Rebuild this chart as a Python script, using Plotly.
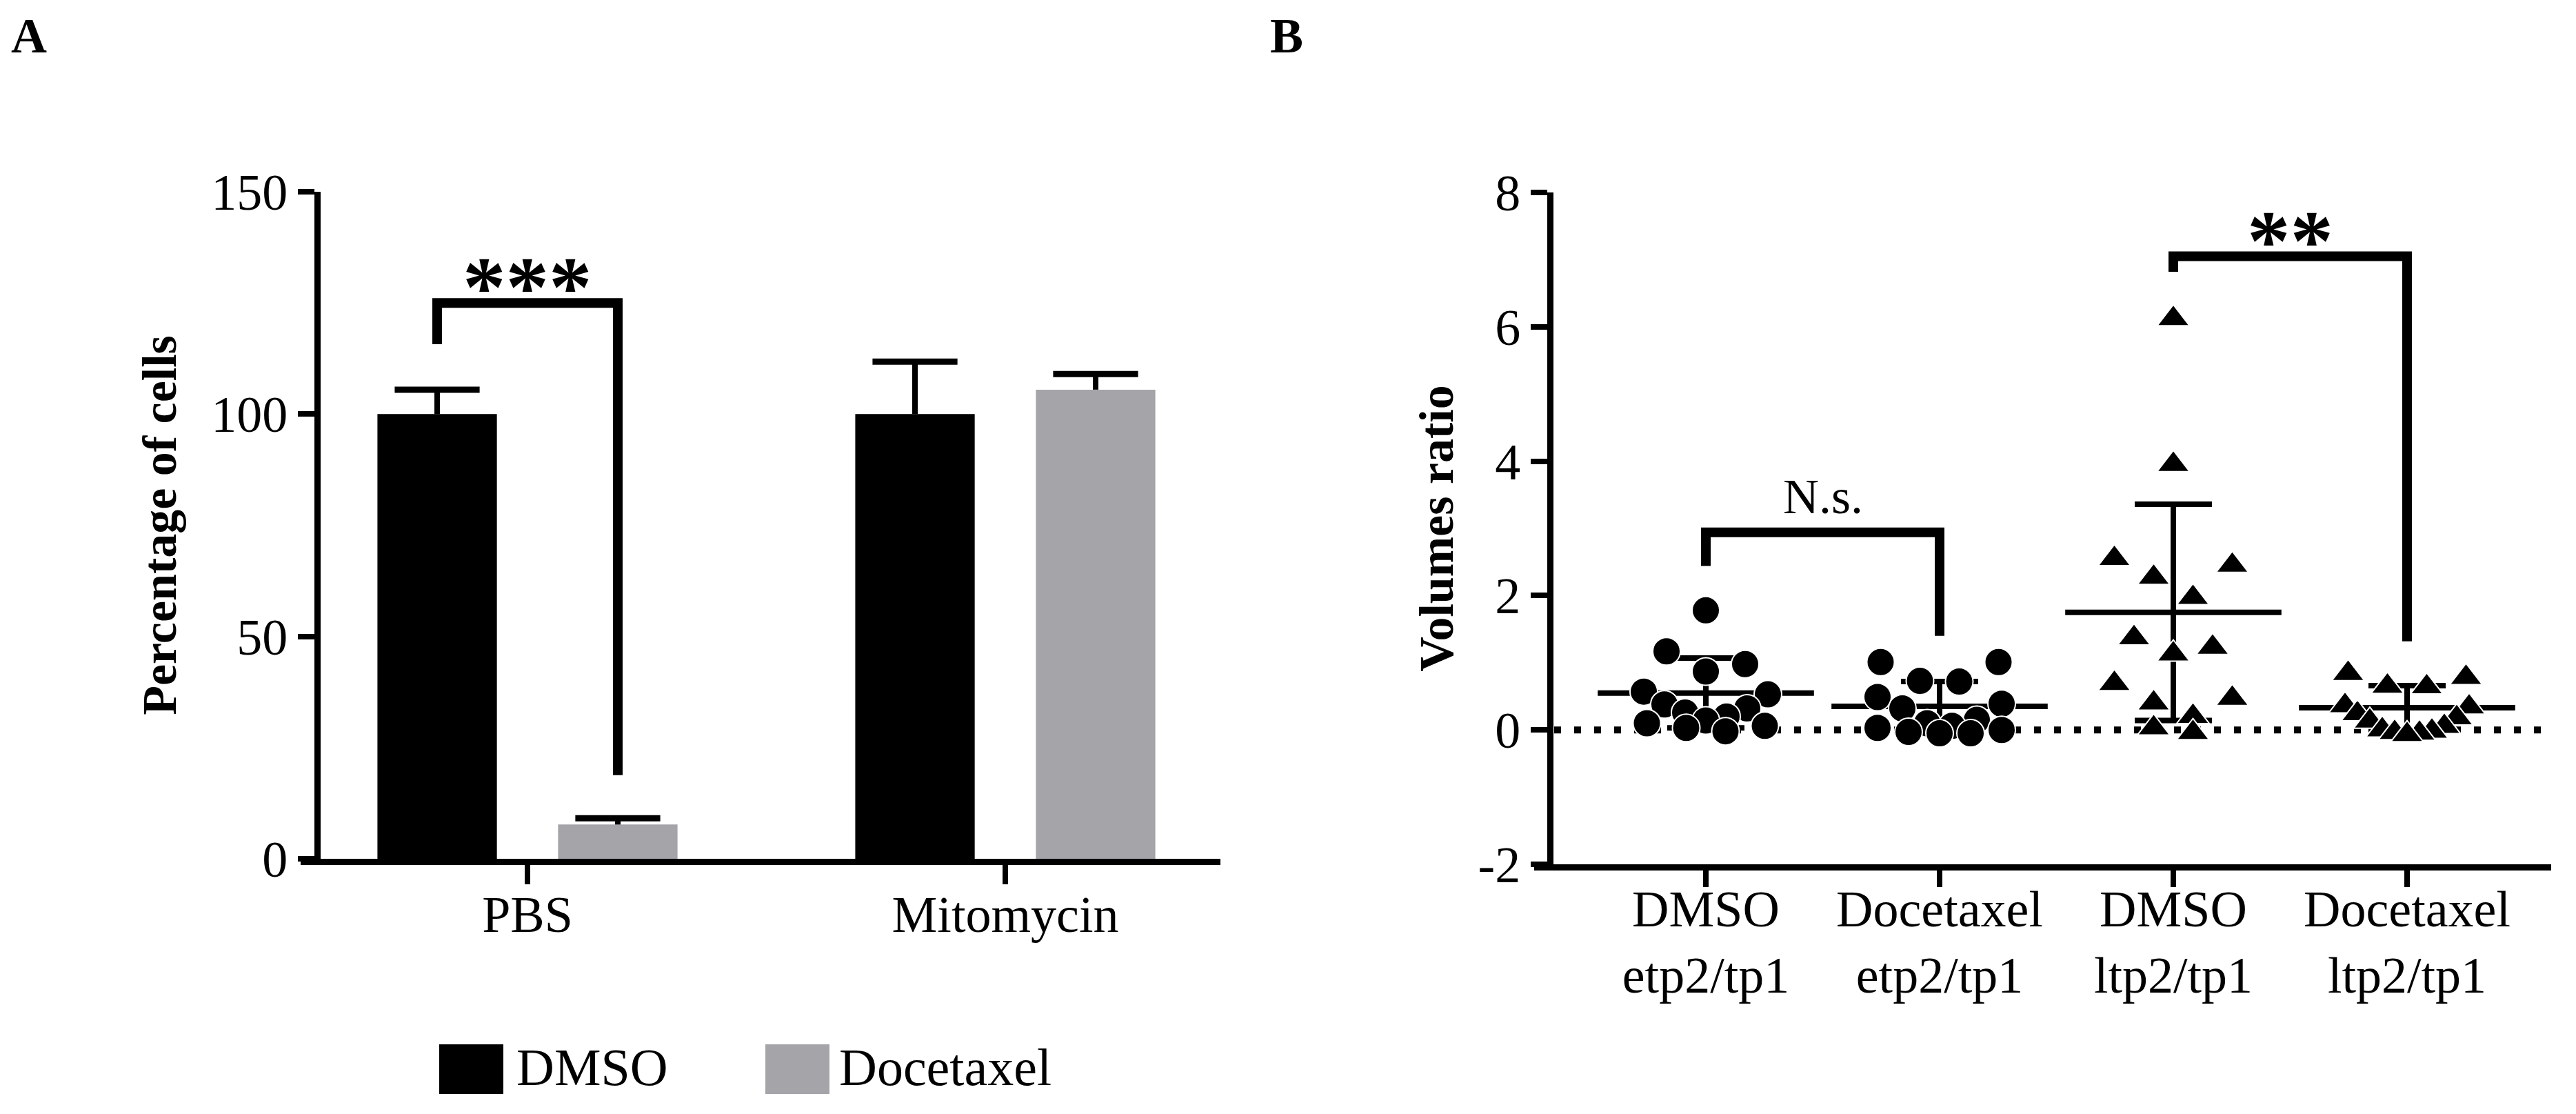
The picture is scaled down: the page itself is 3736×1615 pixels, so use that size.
import numpy as np
import plotly.graph_objects as go

W, H = 3736, 1615
FONT = "Liberation Serif"

# ---------------- Panel A data ----------------
a_categories = ["PBS", "Mitomycin"]
a_dmso = [100.0, 100.0]
a_dmso_err = [5.5, 11.8]
a_doc = [7.7, 105.5]
a_doc_err = [1.4, 3.5]
a_yticks = [0, 50, 100, 150]
a_series = ["DMSO", "Docetaxel"]
a_sig_label = "***"
a_sig_levels = [115.7, 125.0, 18.8]   # left end, top, right end

# ---------------- Panel B data ----------------
b_categories = ["DMSO<br>etp2/tp1", "Docetaxel<br>etp2/tp1",
                "DMSO<br>ltp2/tp1", "Docetaxel<br>ltp2/tp1"]
b_dmso_etp = [1.78, 1.17, 0.98, 0.87, 0.57, 0.53, 0.38, 0.32, 0.26, 0.20,
              0.14, 0.10, 0.06, 0.03, -0.02]
b_doc_etp = [1.01, 1.01, 0.73, 0.72, 0.49, 0.39, 0.32, 0.15, 0.10, 0.06,
             0.03, 0.00, -0.03, -0.05, -0.05]
b_dmso_ltp = [6.12, 3.95, 2.55, 2.45, 2.27, 1.97, 1.37, 1.23, 1.13, 0.69,
              0.47, 0.40, 0.20, 0.03, -0.04]
b_doc_ltp = [0.84, 0.78, 0.65, 0.64, 0.36, 0.34, 0.24, 0.18, 0.13, 0.05,
             0.00, -0.02, -0.04, -0.05, -0.07]
b_means = [0.55, 0.35, 1.75, 0.33]
b_sds = [0.52, 0.37, 1.61, 0.33]
b_yticks = [-2, 0, 2, 4, 6, 8]
b_sig_labels = ["N.s.", "**"]
b_sig_pairs = [(0, 1), (2, 3)]
b_sig_levels = [[2.44, 2.94, 1.40], [6.82, 7.05, 1.32]]

# ---------------- layout constants (pixels) ----------------
def px(x):
    return x / W

def py(y):
    return 1 - y / H

A_X0, A_X1, A_YAX = 436, 1770, 460
A_TOP, A_BOT = 278, 1245
A_UNIT = 693.0            # px per category
A_C0 = 765                # px of first category
B_X0, B_X1, B_YAX = 2225, 3700, 2248
B_TOP, B_BOT = 279, 1253
B_UNIT = 339.0
B_C0 = 2474
BAR_OFF = 0.189
BAR_W = 0.25

BLACK = "#000000"
GREY = "#a5a4a9"

fig = go.Figure()

# ---------- Panel A bars with upward-only error bars ----------
for name, vals, errs, color, sign in [
        (a_series[0], a_dmso, a_dmso_err, BLACK, -1),
        (a_series[1], a_doc, a_doc_err, GREY, 1)]:
    xs = [i + sign * BAR_OFF for i in range(len(a_categories))]
    fig.add_trace(go.Bar(
        x=xs, y=vals, width=BAR_W, name=name,
        marker=dict(color=color, line=dict(width=0)),
        xaxis="x", yaxis="y", showlegend=False))
    stem_x, stem_y = [], []
    for xv, v, e in zip(xs, vals, errs):
        stem_x += [xv, xv, None]
        stem_y += [v, v + e, None]
    fig.add_trace(go.Scatter(
        x=stem_x, y=stem_y, mode="lines", line=dict(color=BLACK, width=8),
        xaxis="x", yaxis="y", showlegend=False, hoverinfo="skip"))
    fig.add_trace(go.Scatter(
        x=xs, y=[v + e for v, e in zip(vals, errs)], mode="markers",
        marker=dict(symbol="line-ew", size=88, color=BLACK,
                    line=dict(color=BLACK, width=9)),
        xaxis="x", yaxis="y", showlegend=False, hoverinfo="skip"))

# significance bracket A
xl, xr = 0 - BAR_OFF, 0 + BAR_OFF
fig.add_trace(go.Scatter(
    x=[xl, xl, xr, xr],
    y=[a_sig_levels[0], a_sig_levels[1], a_sig_levels[1], a_sig_levels[2]],
    mode="lines", line=dict(color=BLACK, width=14), hoverinfo="skip",
    xaxis="x", yaxis="y", showlegend=False))

# ---------- Panel B ----------
def swarm_offsets(values, row_h, spacing_px, max_half_px, unit_px):
    vals = np.asarray(values, float)
    order = list(np.argsort(-vals, kind="stable"))
    offsets = np.zeros(len(vals))
    rows, cur = [], [order[0]]
    for idx in order[1:]:
        if vals[cur[0]] - vals[idx] < row_h:
            cur.append(idx)
        else:
            rows.append(cur)
            cur = [idx]
    rows.append(cur)
    for row in rows:
        n = len(row)
        if n == 1:
            continue
        sp = min(spacing_px, 2 * max_half_px / (n - 1))
        slots = [(k - (n - 1) / 2) * sp for k in range(n)]
        slots = sorted(slots, key=lambda s: (-abs(s), s))
        for idx, s in zip(row, slots):
            offsets[idx] = s / unit_px
    return offsets

# mean +/- SD
fig.add_trace(go.Scatter(
    x=list(range(len(b_categories))), y=b_means, mode="markers",
    marker=dict(symbol="line-ew", size=224, color=BLACK,
                line=dict(color=BLACK, width=8)),
    error_y=dict(type="data", array=b_sds, color=BLACK, thickness=8, width=56),
    xaxis="x2", yaxis="y2", showlegend=False, hoverinfo="skip"))

groups = [b_dmso_etp, b_doc_etp, b_dmso_ltp, b_doc_ltp]
symbols = ["circle", "circle", "triangle-up", "triangle-up"]
sizes = [40, 40, 41, 41]
row_heights = [0.45, 0.45, 0.62, 0.45]
for gi, (vals, sym, sz) in enumerate(zip(groups, symbols, sizes)):
    offs = swarm_offsets(vals, row_heights[gi], 57, 90, B_UNIT)
    fig.add_trace(go.Scatter(
        x=[gi + o for o in offs], y=vals, mode="markers",
        marker=dict(symbol=sym, size=sz, color=BLACK,
                    line=dict(color="white", width=2)),
        xaxis="x2", yaxis="y2", showlegend=False,
        name=b_categories[gi].replace("<br>", " ")))

for (g0, g1), lv in zip(b_sig_pairs, b_sig_levels):
    fig.add_trace(go.Scatter(
        x=[g0, g0, g1, g1], y=[lv[0], lv[1], lv[1], lv[2]],
        mode="lines", line=dict(color=BLACK, width=14), hoverinfo="skip",
        xaxis="x2", yaxis="y2", showlegend=False))

annotations = []
# significance labels
annotations.append(dict(
    x=(xl + xr) / 2, y=a_sig_levels[1], xref="x", yref="y",
    text="<b>" + a_sig_label + "</b>", showarrow=False, yanchor="bottom",
    yshift=-48, font=dict(family=FONT, size=125, color=BLACK)))
for lab, (g0, g1), lv in zip(b_sig_labels, b_sig_pairs, b_sig_levels):
    if "*" in lab:
        annotations.append(dict(
            x=(g0 + g1) / 2, y=lv[1], xref="x2", yref="y2",
            text="<b>" + lab + "</b>", showarrow=False, yanchor="bottom",
            yshift=-48, font=dict(family=FONT, size=125, color=BLACK)))
    else:
        annotations.append(dict(
            x=(g0 + g1) / 2, y=lv[1], xref="x2", yref="y2",
            text=lab, showarrow=False, yanchor="bottom", yshift=10,
            font=dict(family=FONT, size=72, color=BLACK)))

# panel letters
annotations.append(dict(x=px(14), y=py(52), xref="paper", yref="paper",
                        text="<b>A</b>", showarrow=False, xanchor="left",
                        yanchor="middle",
                        font=dict(family=FONT, size=72, color=BLACK)))
annotations.append(dict(x=px(1840), y=py(52), xref="paper", yref="paper",
                        text="<b>B</b>", showarrow=False, xanchor="left",
                        yanchor="middle",
                        font=dict(family=FONT, size=72, color=BLACK)))

# manual legend for panel A
shapes = []
leg_items = [(a_series[0], BLACK, 637, 747), (a_series[1], GREY, 1110, 1215)]
for name, color, rx, tx in leg_items:
    shapes.append(dict(type="rect", xref="paper", yref="paper",
                       x0=px(rx), x1=px(rx + 93), y0=py(1586), y1=py(1514),
                       fillcolor=color, line=dict(width=0)))
    annotations.append(dict(x=px(tx), y=py(1547), xref="paper", yref="paper",
                            text=name, showarrow=False, xanchor="left",
                            yanchor="middle",
                            font=dict(family=FONT, size=76, color=BLACK)))

# dotted zero line panel B
shapes.append(dict(type="line", xref="x2 domain", yref="y2",
                   x0=(2254 - B_X0) / (B_X1 - B_X0), x1=1, y0=0, y1=0,
                   layer="below",
                   line=dict(color=BLACK, width=10, dash="10px,19px")))

axis_common = dict(showline=True, linecolor=BLACK, linewidth=9,
                   showgrid=False, zeroline=False, ticks="outside",
                   tickcolor=BLACK, tickwidth=8, automargin=False,
                   tickfont=dict(family=FONT, size=74, color=BLACK))

fig.update_layout(
    template="none",
    width=W, height=H, autosize=False,
    margin=dict(l=0, r=0, t=0, b=0, pad=0),
    paper_bgcolor="white", plot_bgcolor="white",
    barmode="overlay", showlegend=False,
    font=dict(family=FONT, color=BLACK),
    xaxis=dict(domain=[px(A_X0), px(A_X1)],
               range=[(A_X0 - A_C0) / A_UNIT, (A_X1 - A_C0) / A_UNIT],
               tickvals=list(range(len(a_categories))), ticktext=a_categories,
               ticklen=28, anchor="y", ticklabelstandoff=-20, **axis_common),
    yaxis=dict(domain=[py(A_BOT), py(A_TOP)], range=[0, 150],
               tickvals=a_yticks, ticklen=24, anchor="free",
               position=px(A_YAX),
               title=dict(text="<b>Percentage of cells</b>", standoff=26,
                          font=dict(family=FONT, size=70, color=BLACK)),
               **axis_common),
    xaxis2=dict(domain=[px(B_X0), px(B_X1)],
                range=[(B_X0 - B_C0) / B_UNIT, (B_X1 - B_C0) / B_UNIT],
                tickvals=list(range(len(b_categories))), ticktext=b_categories,
                ticklen=24, anchor="y2", ticklabelstandoff=-32, **axis_common),
    yaxis2=dict(domain=[py(B_BOT), py(B_TOP)], range=[-2, 8],
                tickvals=b_yticks, ticktext=[str(v) for v in b_yticks],
                ticklen=24, anchor="free", position=px(B_YAX),
                title=dict(text="<b>Volumes ratio</b>", standoff=12,
                           font=dict(family=FONT, size=70, color=BLACK)),
                **axis_common),
    annotations=annotations,
    shapes=shapes,
)

fig.write_html("out.html",
               config={"displayModeBar": False},
               post_script="document.body.style.margin='0';"
                           "document.body.style.overflow='hidden';")
